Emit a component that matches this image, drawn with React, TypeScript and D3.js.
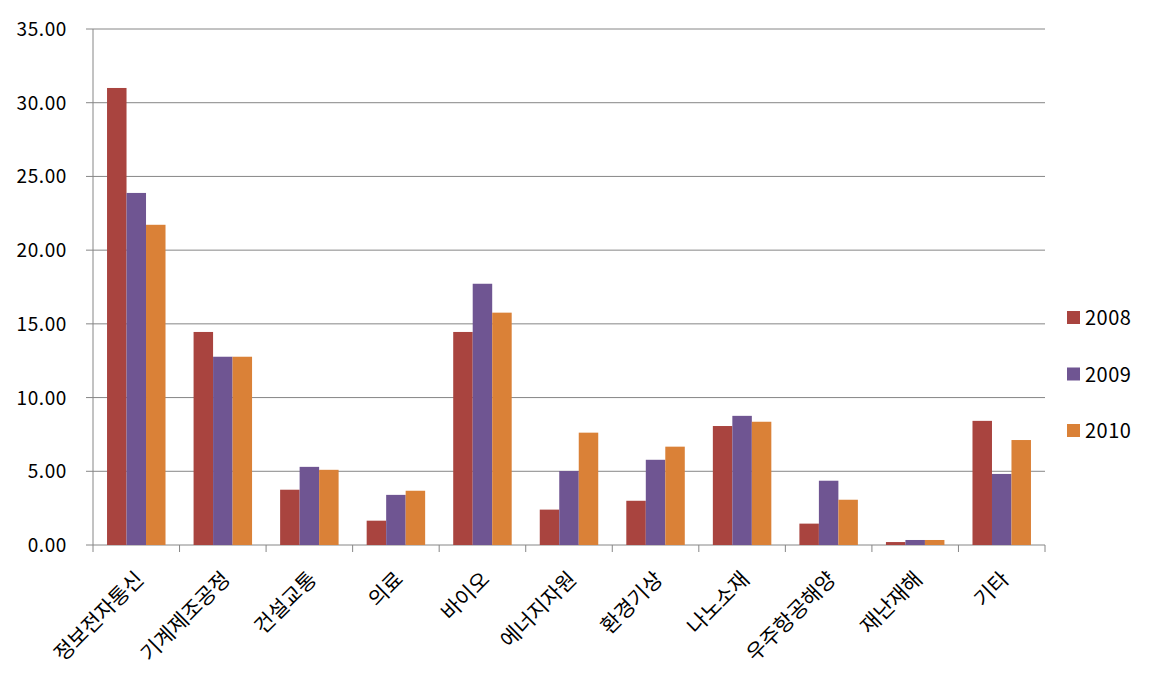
import React from "react";
import * as d3 from "d3";

const categories = ["정보전자통신", "기계제조공정", "건설교통", "의료", "바이오", "에너지자원", "환경기상", "나노소재", "우주항공해양", "재난재해", "기타"];
const seriesNames = ["2008", "2009", "2010"];
const values2008 = [31.0, 14.45, 3.75, 1.65, 14.45, 2.4, 3.0, 8.07, 1.45, 0.2, 8.42];
const values2009 = [23.88, 12.77, 5.3, 3.4, 17.72, 5.02, 5.78, 8.76, 4.36, 0.34, 4.82];
const values2010 = [21.72, 12.77, 5.1, 3.68, 15.76, 7.62, 6.67, 8.36, 3.07, 0.34, 7.12];
const yTicks = [0, 5, 10, 15, 20, 25, 30, 35];
const colors = ["#A9443F", "#6F5592", "#DA8137"];

export default function App() {
  const W = 1164, H = 689;
  const left = 93, right = 1045, top = 29, bottom = 545;
  const font = "'Noto Sans CJK KR', 'Noto Sans', sans-serif";
  const series = [values2008, values2009, values2010];

  const x = d3.scaleBand<string>().domain(categories).range([left, right]).paddingInner(0).paddingOuter(0);
  const x1 = d3.scaleBand<string>().domain(seriesNames).range([0, x.bandwidth()]).paddingInner(0).paddingOuter(0.72);
  const y = d3.scaleLinear().domain([0, 35]).range([bottom, top]);
  const gridColor = "#868686";

  return (
    <svg width={W} height={H} style={{ position: "absolute", left: 0, top: 0, background: "#fff" }}>
      {yTicks.map((t) => (
        <g key={t}>
          <line x1={left - 7} x2={right} y1={y(t)} y2={y(t)} stroke={gridColor} strokeWidth={1} />
          <text x={67} y={y(t) + 7} textAnchor="end" fontFamily={font} fontSize={19} letterSpacing={0.6} fill="#000">{t.toFixed(2)}</text>
        </g>
      ))}
      <line x1={left} x2={left} y1={top} y2={bottom} stroke={gridColor} strokeWidth={1} />
      {categories.concat(["__end"]).map((c, i) => {
        const xp = i < categories.length ? (x(c) as number) : right;
        return <line key={"t" + i} x1={xp} x2={xp} y1={bottom} y2={bottom + 7} stroke={gridColor} strokeWidth={1} />;
      })}
      {series.map((vals, si) => (
        <g key={si}>
          {categories.map((c, ci) => (
            <rect key={c} x={(x(c) as number) + (x1(seriesNames[si]) as number)} y={y(vals[ci])} width={x1.bandwidth()} height={bottom - y(vals[ci])} fill={colors[si]} />
          ))}
        </g>
      ))}
      {categories.map((c) => {
        const cx = (x(c) as number) + x.bandwidth() / 2 - 5;
        const cy = bottom + 22;
        return (
          <text key={c} x={cx} y={cy} transform={`rotate(-45 ${cx} ${cy})`} textAnchor="end" dominantBaseline="hanging" fontFamily={font} fontSize={21} fill="#000">{c}</text>
        );
      })}
      {seriesNames.map((s, i) => (
        <g key={s}>
          <rect x={1067} y={311 + i * 56.5} width={13} height={13} fill={colors[i]} />
          <text x={1085} y={325 + i * 56.5} fontFamily={font} fontSize={20} letterSpacing={0.5} fill="#000">{s}</text>
        </g>
      ))}
    </svg>
  );
}
